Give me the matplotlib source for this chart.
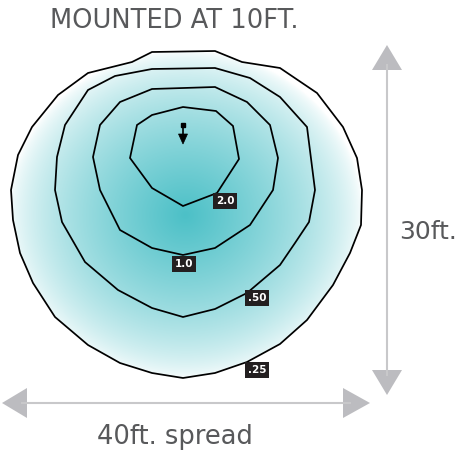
import numpy as np
import matplotlib
matplotlib.use("Agg")
import matplotlib.pyplot as plt
from matplotlib.patches import Polygon

# ---- data (pixel coordinates) ----
levels = ["2.0", "1.0", ".50", ".25"]

c25_x = [152, 215, 242, 280, 317, 343, 357, 362, 361, 350, 333, 307, 280, 247, 215, 183, 152, 120, 88, 55, 33, 20, 13, 11, 18, 32, 58, 88, 132]
c25_y = [52, 51, 62, 68, 93, 127, 158, 190, 225, 253, 285, 320, 344, 362, 373, 378, 373, 363, 345, 317, 283, 253, 220, 190, 155, 127, 95, 73, 62]

c50_x = [152, 215, 250, 280, 307, 315, 309, 295, 280, 247, 215, 183, 152, 118, 85, 62, 55, 57, 65, 88, 115]
c50_y = [69, 68, 78, 97, 127, 190, 222, 243, 265, 293, 309, 317, 308, 290, 262, 222, 190, 157, 125, 90, 76]

c10_x = [152, 215, 247, 270, 278, 273, 250, 215, 183, 152, 120, 100, 93, 100, 120]
c10_y = [89, 87, 102, 125, 158, 190, 225, 248, 255, 248, 230, 190, 157, 125, 102]

c20_x = [183, 216, 233, 239, 217, 183, 152, 130, 137, 152]
c20_y = [107, 111, 126, 159, 193, 206, 188, 158, 125, 115]

label_x = [225, 184, 257, 257]
label_y = [201, 264, 298, 370]

title = "MOUNTED AT 10FT."
height_label = "30ft."
spread_label = "40ft. spread"

# ---- figure ----
fig = plt.figure(figsize=(4.61, 4.50), dpi=100)
ax = fig.add_axes([0, 0, 1, 1])
ax.set_xlim(0, 461)
ax.set_ylim(450, 0)
ax.axis("off")

# radial gradient clipped to the outer contour
cx, cy = 185, 215
rx, ry = 178, 165
xs = np.linspace(0, 461, 462)
ys = np.linspace(0, 450, 451)
X, Y = np.meshgrid(xs, ys)
R = np.sqrt(((X - cx) / rx) ** 2 + ((Y - cy) / ry) ** 2)
t = np.clip(1 - R, 0, 1) ** 0.68
teal = np.array([76, 192, 199]) / 255.0
img = np.ones((len(ys), len(xs), 3)) * (1 - t[..., None]) + teal * t[..., None]
im = ax.imshow(img, extent=(0, 461, 450, 0), origin="upper", zorder=1, interpolation="bilinear")
outer = Polygon(np.column_stack([c25_x, c25_y]), closed=True, transform=ax.transData)
im.set_clip_path(outer)

for px, py in [(c25_x, c25_y), (c50_x, c50_y), (c10_x, c10_y), (c20_x, c20_y)]:
    ax.add_patch(Polygon(np.column_stack([px, py]), closed=True, fill=False,
                         edgecolor="black", lw=1.25, joinstyle="miter", zorder=3))

# labels
for lab, lx, ly in zip(levels, label_x, label_y):
    ax.text(lx, ly, lab, ha="center", va="center", color="white", fontsize=7.5,
            fontweight="bold", family="DejaVu Sans", zorder=5,
            bbox=dict(boxstyle="square,pad=0.28", fc="#231f20", ec="none"))

# small downward arrow (mount point)
ax.plot([183], [125], marker="s", ms=2.5, color="black", zorder=5)
ax.plot([183, 183], [125, 136], color="black", lw=1.2, zorder=5)
ax.add_patch(Polygon([[178.5, 134], [187.5, 134], [183, 144]], closed=True,
                     fc="black", ec="black", lw=0.5, zorder=5))

# gray dimension arrows
gray_line = "#c8c8ca"
gray_head = "#bcbcc0"
ax.plot([387, 387], [65, 375], color=gray_line, lw=1.5, zorder=2)
ax.add_patch(Polygon([[372, 70], [402, 70], [387, 45]], closed=True, fc=gray_head, ec="none"))
ax.add_patch(Polygon([[372, 370], [402, 370], [387, 395]], closed=True, fc=gray_head, ec="none"))
ax.plot([22, 350], [403, 403], color=gray_line, lw=1.5, zorder=2)
ax.add_patch(Polygon([[27, 388], [27, 418], [2, 403]], closed=True, fc=gray_head, ec="none"))
ax.add_patch(Polygon([[343, 388], [343, 418], [370, 403]], closed=True, fc=gray_head, ec="none"))

# texts
txt_color = "#58595b"
ax.text(174, 21, title, ha="center", va="center", fontsize=18.5, color=txt_color, family="DejaVu Sans")
ax.text(399, 232, height_label, ha="left", va="center", fontsize=18, color=txt_color, family="DejaVu Sans")
ax.text(175, 437, spread_label, ha="center", va="center", fontsize=18.5, color=txt_color, family="DejaVu Sans")

fig.savefig("out.png", dpi=100)
